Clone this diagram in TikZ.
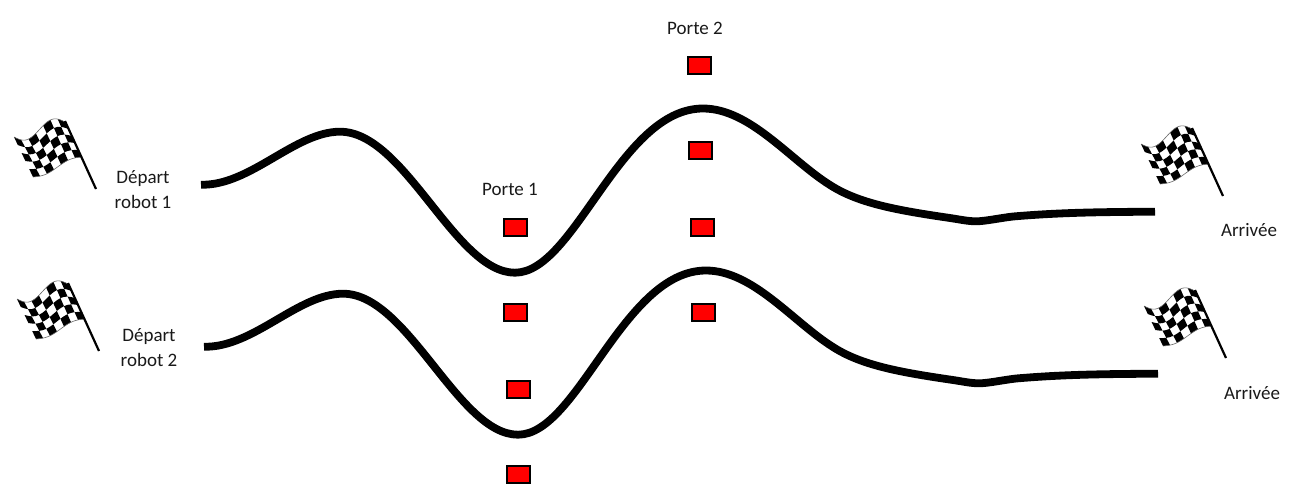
\documentclass[tikz,border=0pt]{standalone}
\usepackage{fontspec}
\setmainfont{Carlito}
\tikzset{
  gate/.style={draw=black,line width=2pt,fill=red,minimum width=23pt,minimum height=17pt,inner sep=0pt,outer sep=0pt},
  lbl/.style={align=center,inner sep=0pt,text=black!90,font=\fontsize{19}{25}\selectfont},
  trackline/.style={line width=7.8pt,black,line cap=butt,line join=round},
  declare function={
    ftx(\u)=65-51*\u;
    fty(\u)=122+15*\u-6.5*sin(360*\u);
    fbx(\u)=82-49*\u;
    fby(\u)=157+20*\u-2.5*sin(360*\u);
    fx(\u,\v)=(1-\v)*ftx(\u)+\v*fbx(\u);
    fy(\u,\v)=(1-\v)*fty(\u)+\v*fby(\u);
  },
  pics/flag/.style={code={
    \foreach \ci in {0,...,6}{
      \foreach \cj in {0,...,4}{
        \pgfmathtruncatemacro{\cpar}{mod(\ci+\cj,2)}
        \ifnum\cpar=0
          \pgfmathsetmacro{\ua}{\ci/7}\pgfmathsetmacro{\ub}{(\ci+1)/7}
          \pgfmathsetmacro{\va}{\cj/5}\pgfmathsetmacro{\vb}{(\cj+1)/5}
          \pgfmathsetmacro{\um}{(\ua+\ub)/2}
          \fill[black] ({fx(\ua,\va)},{fy(\ua,\va)}) -- ({fx(\um,\va)},{fy(\um,\va)}) -- ({fx(\ub,\va)},{fy(\ub,\va)}) -- ({fx(\ub,\vb)},{fy(\ub,\vb)}) -- ({fx(\um,\vb)},{fy(\um,\vb)}) -- ({fx(\ua,\vb)},{fy(\ua,\vb)}) -- cycle;
        \fi
      }
    }
    \draw[black!60,line width=.6pt] plot[domain=0:1,samples=24,variable=\t] ({ftx(\t)},{fty(\t)});
    \draw[black!60,line width=.6pt] plot[domain=0:1,samples=24,variable=\t] ({fbx(\t)},{fby(\t)});
    \draw[black,line width=2.2pt] (65,121) -- (96,189);
  }},
  pics/track/.style={code={
    \draw[trackline] (201,184.7)
      .. controls (250,186) and (295,131.7) .. (340,131.7)
      .. controls (405,131.7) and (455,272.7) .. (515,272.7)
      .. controls (575,272.7) and (620,108.5) .. (703,108.5)
      .. controls (750,108.5) and (790,160) .. (830,185)
      .. controls (858,203) and (895,210) .. (950,218)
      .. controls (960,219.5) and (968,221.3) .. (976,221.3)
      .. controls (985,221.3) and (1000,218) .. (1013,216.5)
      .. controls (1060,212.5) and (1100,212) .. (1155,211.7);
  }}
}
\begin{document}
\begin{tikzpicture}[x=1pt,y=-1pt]
\path[use as bounding box] (0,0) rectangle (1294,496);
\pic at (0,0) {track};
\pic at (3,162) {track};
\pic at (0,0) {flag};
\pic at (3,162) {flag};
\pic at (1127,7) {flag};
\pic at (1130,169) {flag};
\node[gate] (g1a) at (515.5,227.5) {};
\node[gate] (g1b) at (515.5,312.5) {};
\node[gate] (g1c) at (518,389.5) {};
\node[gate] (g1d) at (518,474.5) {};
\node[gate] (g2a) at (699.5,65.5) {};
\node[gate] (g2b) at (700.5,150.5) {};
\node[gate] (g2c) at (702.5,227.5) {};
\node[gate] (g2d) at (703.5,312.5) {};
\node[lbl] (d1) at (143,189.5) {Départ\\robot 1};
\node[lbl] (d2) at (149,347.5) {Départ\\robot 2};
\node[lbl] (p1) at (510,189) {Porte 1};
\node[lbl] (p2) at (695,28) {Porte 2};
\node[lbl] (a1) at (1249,230) {Arrivée};
\node[lbl] (a2) at (1252,393) {Arrivée};
\end{tikzpicture}
\end{document}
